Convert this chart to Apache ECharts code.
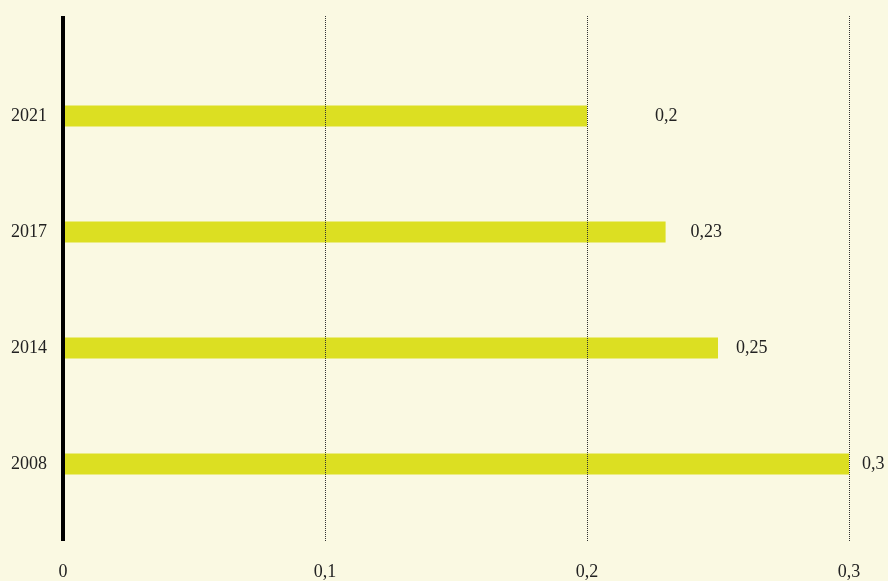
<!DOCTYPE html>
<html>
<head>
<meta charset="utf-8">
<script src="https://cdn.jsdelivr.net/npm/echarts@6/dist/echarts.min.js"></script>
<style>
  html, body { margin: 0; padding: 0; background: #faf9e2; }
  #chart { width: 888px; height: 581px; }
</style>
</head>
<body>
<div id="chart"></div>
<script>
// data
var years = ['2008', '2014', '2017', '2021'];
var values = [0.3, 0.25, 0.23, 0.2];
var xTicks = [0, 0.1, 0.2, 0.3];
// gap between bar end and its label (px)
var labelGap = [13, 18, 25, 68];

var fmt = function (v) { return String(v).replace('.', ','); };
var font = '"Liberation Serif", "DejaVu Serif", serif';

var chart = echarts.init(document.getElementById('chart'));

var barData = values.map(function (v, i) {
  return { value: v, label: { distance: labelGap[i] } };
});

var option = {
  backgroundColor: '#faf9e2',
  animation: false,
  grid: [
    // frame: axis line, dotted grid lines, x labels
    { left: 63, right: 39, top: 16, bottom: 33 },
    // bars
    { left: 63, right: 39, top: 58, bottom: 59 }
  ],
  xAxis: [
    {
      gridIndex: 0,
      type: 'value',
      min: xTicks[0],
      max: xTicks[xTicks.length - 1],
      interval: 0.1,
      z: 5,
      axisLine: { show: false },
      axisTick: { show: false },
      splitLine: { show: true, lineStyle: { color: '#333', width: 1, type: [1, 1] } },
      axisLabel: {
        margin: 22,
        fontSize: 18,
        fontFamily: font,
        color: '#222',
        formatter: fmt
      }
    },
    {
      gridIndex: 1,
      type: 'value',
      min: xTicks[0],
      max: xTicks[xTicks.length - 1],
      show: false
    }
  ],
  yAxis: [
    {
      gridIndex: 0,
      type: 'value',
      z: 6,
      axisLine: { show: true, onZero: false, lineStyle: { color: '#000', width: 4, cap: 'butt' } },
      axisTick: { show: false },
      axisLabel: { show: false },
      splitLine: { show: false }
    },
    {
      gridIndex: 1,
      type: 'category',
      data: years,
      axisLine: { show: false },
      axisTick: { show: false },
      splitLine: { show: false },
      axisLabel: {
        margin: 16,
        fontSize: 18,
        fontFamily: font,
        color: '#222'
      }
    }
  ],
  series: [
    {
      type: 'bar',
      xAxisIndex: 1,
      yAxisIndex: 1,
      barWidth: 21,
      itemStyle: { color: '#dcdf22' },
      label: {
        show: true,
        position: 'right',
        fontSize: 18,
        fontFamily: font,
        color: '#222',
        formatter: function (p) { return fmt(p.value); }
      },
      data: barData
    }
  ]
};

chart.setOption(option);
</script>
</body>
</html>
